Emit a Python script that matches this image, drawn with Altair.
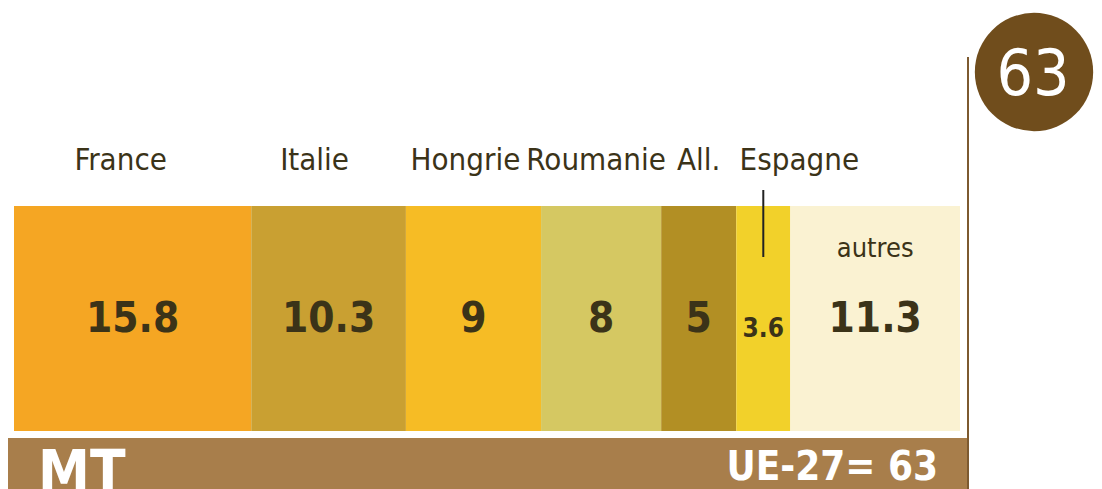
import altair as alt
import pandas as pd

# ---- data ----
countries = ["France", "Italie", "Hongrie", "Roumanie", "All.", "Espagne", "autres"]
values = [15.8, 10.3, 9, 8, 5, 3.6, 11.3]
palette = ["#F5A623", "#C9A032", "#F6BC25", "#D5C862", "#B28F24", "#F2D12A", "#FAF2D2"]
unit_label = "MT"
region_label = "UE-27"

# derived table
ends = []
acc = 0.0
for v in values:
    acc += v
    ends.append(round(acc, 4))
starts = [round(e - v, 4) for e, v in zip(ends, values)]
df = pd.DataFrame({
    "country": countries,
    "value": values,
    "start": starts,
    "end": ends,
    "mid": [(s + e) / 2 for s, e in zip(starts, ends)],
    "label": [("%g" % v) for v in values],
})
total = round(sum(values), 1)
total_txt = "%g" % total

FONT = "Liberation Sans Narrow, DejaVu Sans Condensed, Arial Narrow, sans-serif"
DARK = "#3B3318"

xscale = alt.Scale(domain=[0, total], range=[6, 952])
X = lambda f: alt.X(f"{f}:Q", scale=xscale, axis=None)

base = alt.Chart(df)

bars = base.mark_rect().encode(
    x=X("start"),
    x2="end:Q",
    y=alt.value(198),
    y2=alt.value(423),
    color=alt.Color("country:N", scale=alt.Scale(domain=countries, range=palette), legend=None),
)


def top_label(name, dx=0):
    return base.transform_filter(alt.datum.country == name).mark_text(
        font=FONT, fontSize=31, color=DARK, baseline="alphabetic", align="center", dx=dx
    ).encode(x=X("mid"), y=alt.value(162), text="country:N")


labels = [
    top_label("France", -12),
    top_label("Italie", -14),
    top_label("Hongrie", -8),
    top_label("Roumanie", -5),
    top_label("All.", 0),
    top_label("Espagne", 36),
]

leader = base.transform_filter(alt.datum.country == "Espagne").mark_rule(
    color="#222222", strokeWidth=2
).encode(x=X("mid"), y=alt.value(182), y2=alt.value(249))

autres_label = base.transform_filter(alt.datum.country == "autres").mark_text(
    font=FONT, fontSize=27, color=DARK, baseline="alphabetic", align="center"
).encode(x=X("mid"), y=alt.value(249), text="country:N")

big_values = base.transform_filter(alt.datum.country != "Espagne").mark_text(
    font=FONT, fontSize=42, fontWeight="bold", color=DARK, baseline="alphabetic", align="center"
).encode(x=X("mid"), y=alt.value(324), text="label:N")

small_value = base.transform_filter(alt.datum.country == "Espagne").mark_text(
    font=FONT, fontSize=26, fontWeight="bold", color=DARK, baseline="alphabetic", align="center"
).encode(x=X("mid"), y=alt.value(329), text="label:N")

tot = alt.Chart(pd.DataFrame({"total": [total_txt], "unit": [unit_label],
                              "region": [f"{region_label}= {total_txt}"]}))

band = tot.mark_rect(color="#A87E4B").encode(
    x=alt.value(0), x2=alt.value(959), y=alt.value(430), y2=alt.value(481)
)
mt_text = tot.mark_text(font=FONT, fontSize=58, fontWeight="bold", color="white",
                        align="left", baseline="alphabetic").encode(
    x=alt.value(30), y=alt.value(484), text="unit:N")
ue_text = tot.mark_text(font=FONT, fontSize=40, fontWeight="bold", color="white",
                        align="right", baseline="alphabetic").encode(
    x=alt.value(930), y=alt.value(472), text="region:N")

vline = tot.mark_rule(color="#7D5A30", strokeWidth=2).encode(
    x=alt.value(960), y=alt.value(49), y2=alt.value(481)
)
circle = tot.mark_circle(color="#704D1C", opacity=1).encode(
    x=alt.value(1026), y=alt.value(64), size=alt.value(14000)
)
circle_text = tot.mark_text(font=FONT, fontSize=64, color="white", align="center",
                            baseline="alphabetic").encode(
    x=alt.value(1025), y=alt.value(87), text="total:N")

chart = alt.layer(
    bars, *labels, leader, autres_label, big_values, small_value,
    band, mt_text, ue_text, vline, circle, circle_text
).properties(
    width=1086, height=481, padding=0, autosize=alt.AutoSizeParams(type="none"),
    background="white"
).configure_view(stroke=None)

chart.save("out.html", embed_options={"renderer": "svg", "actions": False})
